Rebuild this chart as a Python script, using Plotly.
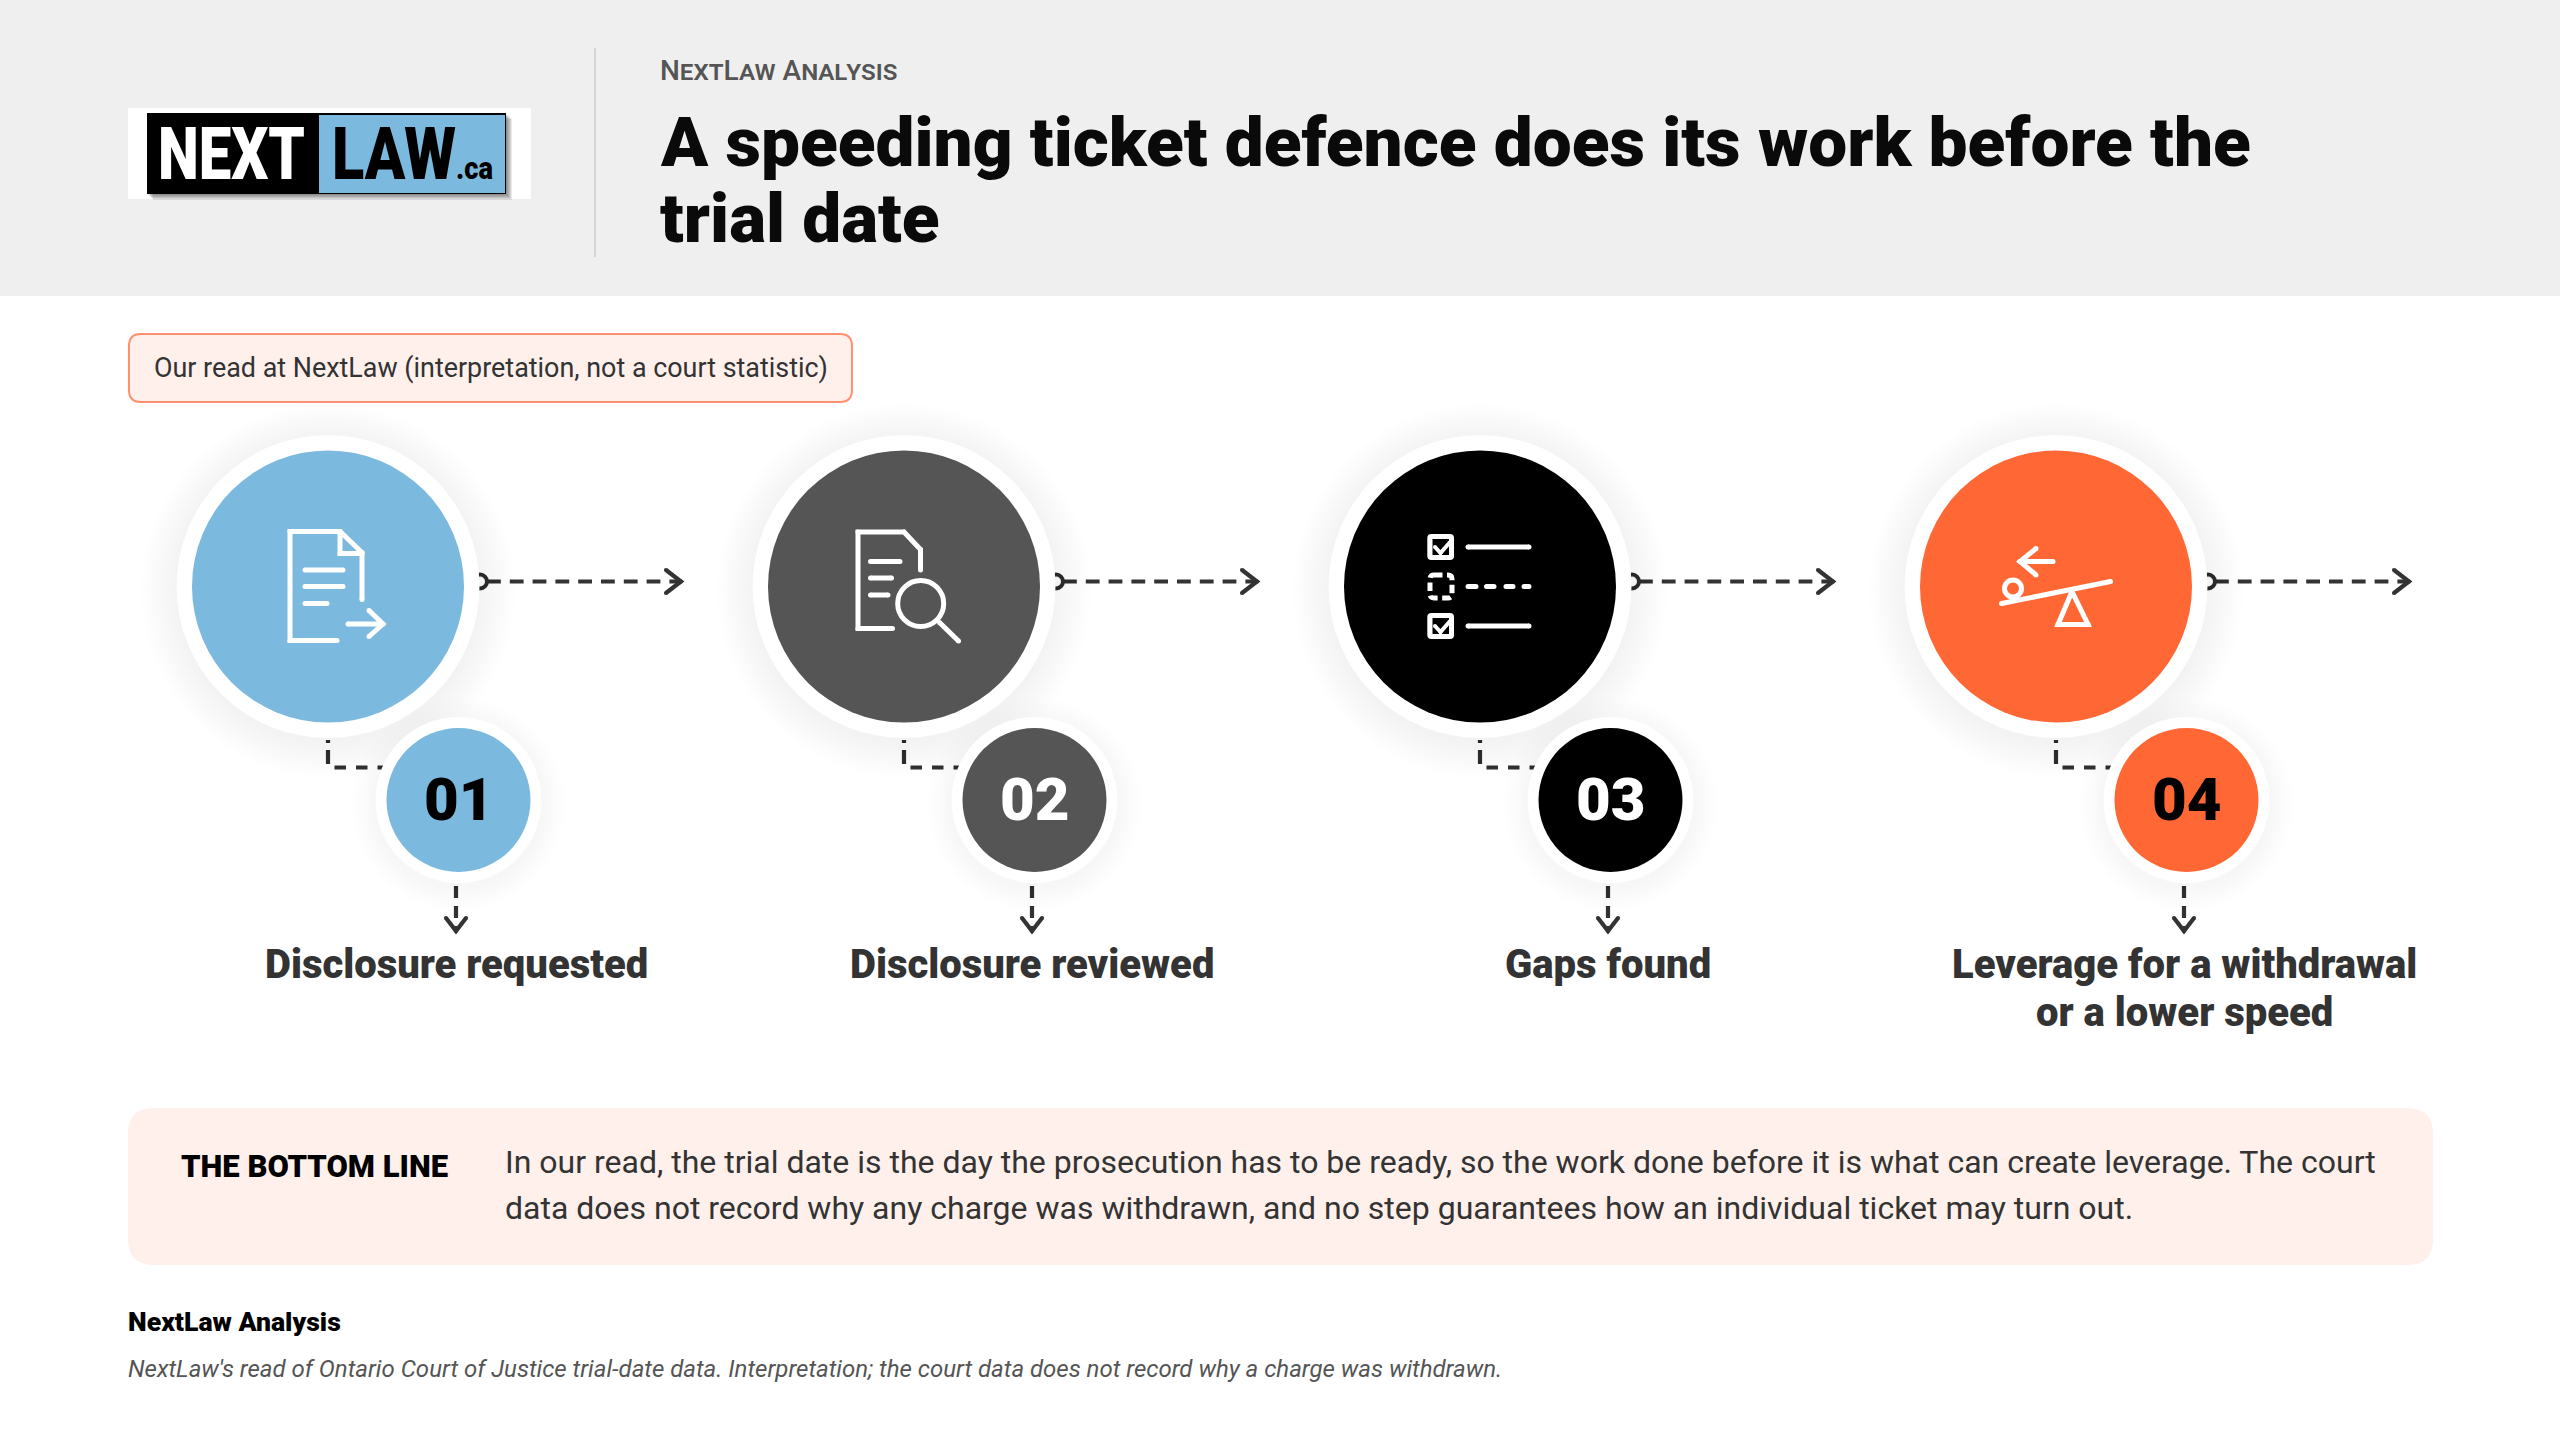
import json
import plotly.graph_objects as go

# --- Configuration ---
WIDTH = 2560
HEIGHT = 1440
FONT = "Roboto"
INK = "#333333"
HEADER_BG = "#EFEFEF"
PEACH = "#FFF0EB"
PEACH_LINE = "#FF9070"

# --- Content ---
step_numbers = ["01", "02", "03", "04"]
step_labels = [["Disclosure requested"], ["Disclosure reviewed"], ["Gaps found"],
               ["Leverage for a withdrawal", "or a lower speed"]]
step_colors = ["#7CB9DE", "#555555", "#000000", "#FF6835"]
number_colors = ["#000000", "#FFFFFF", "#FFFFFF", "#000000"]
step_x = [328, 904, 1480, 2056]

logo_words = ["NEXT", "LAW", ".ca"]
logo_x = [158, 332, 456]
logo_sizes = [72, 72, 32]
logo_colors = ["#FFFFFF", "#000000", "#000000"]
logo_widths = [147, 124, 37]

title_lines = ["A speeding ticket defence does its work before the", "trial date"]
eyebrow = "NextLaw Analysis"
badge_text = "Our read at NextLaw (interpretation, not a court statistic)"
bottom_label = "THE BOTTOM LINE"
bottom_lines = ["In our read, the trial date is the day the prosecution has to be ready, so the work done before it is what can create leverage. The court",
                "data does not record why any charge was withdrawn, and no step guarantees how an individual ticket may turn out."]
source_title = "NextLaw Analysis"
source_note = "NextLaw's read of Ontario Court of Justice trial-date data. Interpretation; the court data does not record why a charge was withdrawn."

# icon strokes, relative to the big circle centre
doc_send = [[(9, 54), (-38, 54), (-38, -55), (12, -55), (34, -34), (34, 13)],
            [(12, -55), (12, -33), (34, -33)],
            [(-23, -16.5), (15, -16.5)], [(-23, 0), (15, 0)], [(-23, 17), (-1, 17)],
            [(20, 37.5), (55, 37.5)], [(41, 24), (55, 37.5), (41, 50)]]
doc_search = [[(-11.5, 42), (-46, 42), (-46, -54.5), (0, -54.5), (16.5, -37), (16.5, -16.5)],
              [(-33.5, -25), (-4, -25)], [(-33.5, -8.5), (-12.5, -8.5)], [(-33.5, 8.5), (-16, 8.5)],
              [(35.5, 36), (54.5, 54.5)]]
lens = (16.7, 17, 23)
list_lines = [[(-12, -39.5), (49, -39.5)], [(-12, 39.5), (49, 39.5)],
              [(-12, 0), (-4, 0)], [(6.5, 0), (14, 0)], [(26, 0), (33, 0)], [(44, 0), (49, 0)]]
seesaw = [[(-54.5, 17), (54.5, -5)],
          [(16, 5), (2, 38), (32, 38), (16, 5)],
          [(-3, -25), (-36, -25)], [(-20, -38), (-36, -25), (-20, -11.5)]]
ball = (-43, 2, 8.5)

shapes = []
annotations = []


def rect(x0, y0, x1, y1, fill, line=None, lw=0, r=0, dash="solid"):
    if r:
        path = (f"M{x0+r},{y0} L{x1-r},{y0} Q{x1},{y0} {x1},{y0+r} L{x1},{y1-r} Q{x1},{y1} {x1-r},{y1} "
                f"L{x0+r},{y1} Q{x0},{y1} {x0},{y1-r} L{x0},{y0+r} Q{x0},{y0} {x0+r},{y0} Z")
        shapes.append(dict(type="path", path=path, fillcolor=fill,
                           line=dict(color=line or fill, width=lw, dash=dash), layer="above"))
    else:
        shapes.append(dict(type="rect", x0=x0, y0=y0, x1=x1, y1=y1, fillcolor=fill,
                           line=dict(width=lw, color=line or fill), layer="above"))


def circle(cx, cy, r, fill="rgba(0,0,0,0)", line=None, lw=0):
    shapes.append(dict(type="circle", x0=cx - r, y0=cy - r, x1=cx + r, y1=cy + r, fillcolor=fill,
                       line=dict(color=line or fill, width=lw), layer="above"))


def stroke(points, cx=0, cy=0, color="#FFFFFF", w=5, dash=None, round_ends=True):
    pts = [(cx + p[0], cy + p[1]) for p in points]
    path = "M" + " L".join(f"{x},{y}" for x, y in pts)
    shapes.append(dict(type="path", path=path, line=dict(color=color, width=w, dash=dash or "solid"), layer="above"))
    if round_ends:
        for x, y in pts:
            circle(x, y, w / 2, fill=color)


def soft_shadow(cx, cy, r, spread):
    # stacked faint discs stand in for a blurred drop shadow
    for i in range(spread, 0, -3):
        circle(cx, cy + 4, r + i, fill="rgba(0,0,0,0.005)")


def text(x, baseline, s, size, color=INK, weight=400, anchor="left", style="normal", variant="normal"):
    annotations.append(dict(x=x, y=baseline + 0.244 * size, text=s, showarrow=False, xanchor=anchor, yanchor="bottom",
                            borderpad=0, borderwidth=0, align=anchor,
                            font=dict(family=FONT, size=size, color=color, weight=weight, style=style, variant=variant)))


# --- Header ---
rect(0, 0, WIDTH, 296, HEADER_BG)
rect(128, 108, 531, 199, "#FFFFFF")
for i in range(6, 0, -1):
    rect(147 + i, 113 + i, 506 + i, 194 + i, "rgba(0,0,0,0.09)")
rect(147, 113, 506, 194, "#000000")
rect(319, 115, 505, 193, "#7CB9DE")
for word, x, size, color in zip(logo_words, logo_x, logo_sizes, logo_colors):
    text(x, 179, word, size, color=color, weight=900)
shapes.append(dict(type="line", x0=595, x1=595, y0=48, y1=257, line=dict(color="#CCCCCC", width=1.5), layer="above"))
text(660, 80, eyebrow, 28, color="#555555", weight=500, variant="small-caps")
text(660, 166.5, title_lines[0], 69.3, color="#0A0A0A", weight=900)
text(660, 242.5, title_lines[1], 69.3, color="#0A0A0A", weight=900)

# --- Badge ---
rect(129, 334, 852, 402, PEACH, line=PEACH_LINE, lw=2, r=12)
text(154, 377, badge_text, 26.9)

# --- Steps ---
for i, cx in enumerate(step_x):
    cy = 586.5
    sx = cx + 130.5
    sy = 800
    lx = cx + 128
    color = step_colors[i]

    # connectors sit under the discs
    stroke([(cx + 159, cy - 5), (cx + 350, cy - 5)], color=INK, w=4.2, dash="13.8px,9px", round_ends=False)
    stroke([(cx + 338, cy - 16.5), (cx + 353, cy - 5), (cx + 338, cy + 6.5)], color=INK, w=4.2)
    circle(cx + 152, cy - 5, 7, fill="#FFFFFF", line=INK, lw=4)
    stroke([(cx, 740), (cx, 767.5), (sx - 10, 767.5)], color=INK, w=4.2,
           dash="3px,7px,14px,10px,11.5px,10px,11.5px,10px,12px", round_ends=False)
    stroke([(lx, 886), (lx, 930)], color=INK, w=4.2, dash="12px,8px", round_ends=False)
    stroke([(lx - 10, 918), (lx, 931), (lx + 10, 918)], color=INK, w=4.2)

    soft_shadow(cx, cy, 151, 36)
    circle(cx, cy, 151.5, fill="#FFFFFF")
    circle(cx, cy, 136, fill=color)
    soft_shadow(sx, sy, 83, 24)
    circle(sx, sy, 83, fill="#FFFFFF")
    circle(sx, sy, 72, fill=color)
    text(sx, 820, step_numbers[i], 60, color=number_colors[i], weight=900, anchor="center")
    for j, line in enumerate(step_labels[i]):
        text(lx, 978.5 + 48 * j, line, 40, weight=900, anchor="center")

# icons
for pts in doc_send:
    stroke(pts, step_x[0], 586.5)
for pts in doc_search:
    stroke(pts, step_x[1], 586.5)
circle(step_x[1] + lens[0], 586.5 + lens[1], lens[2], line="#FFFFFF", lw=5)
for pts in list_lines:
    stroke(pts, step_x[2], 586.5)
for dy in [-39.5, 39.5]:
    rect(step_x[2] - 52.7, 586.5 + dy - 13, step_x[2] - 26, 586.5 + dy + 13, "#FFFFFF", r=4)
    rect(step_x[2] - 47.5, 586.5 + dy - 8, step_x[2] - 31, 586.5 + dy + 8, "#000000")
    stroke([(-45, dy), (-39.5, dy + 6), (-29, dy - 6)], step_x[2], 586.5, w=4)
rect(step_x[2] - 50, 586.5 - 11.5, step_x[2] - 28, 586.5 + 11.5, "#000000", line="#FFFFFF", lw=5, r=4, dash="8.5px,4.5px")
for pts in seesaw:
    stroke(pts, step_x[3], 586.5)
circle(step_x[3] + ball[0], 586.5 + ball[1], ball[2], line="#FFFFFF", lw=5)

# --- Bottom line box ---
rect(128, 1108, 2433, 1265, PEACH, r=26)
text(181, 1177, bottom_label, 31, color="#000000", weight=900)
text(505, 1173, bottom_lines[0], 32)
text(505, 1219, bottom_lines[1], 32)

# --- Footer ---
text(128, 1331, source_title, 26.6, color="#000000", weight=900)
text(128, 1377, source_note, 24, color="#555555", style="italic")

fig = go.Figure()
fig.update_layout(width=WIDTH, height=HEIGHT, margin=dict(l=0, r=0, t=0, b=0),
                  paper_bgcolor="#FFFFFF", plot_bgcolor="#FFFFFF", showlegend=False,
                  shapes=shapes, annotations=annotations,
                  xaxis=dict(range=[0, WIDTH], visible=False, fixedrange=True),
                  yaxis=dict(range=[HEIGHT, 0], visible=False, fixedrange=True))

# the logo lettering is condensed, no installed face has that cut
squeeze = """
document.body.style.margin = '0';
var widths = %s;
function squeezeLogo() {
  document.querySelectorAll('.annotation-text').forEach(function (t) {
    var w = widths[t.getAttribute('data-unformatted')];
    if (w) {
      t.setAttribute('textLength', w);
      t.setAttribute('lengthAdjust', 'spacingAndGlyphs');
      var box = t.parentNode.querySelector('rect');
      if (box) { box.setAttribute('width', w); }
    }
  });
}
squeezeLogo();
setTimeout(squeezeLogo, 50);
""" % json.dumps(dict(zip(logo_words, logo_widths)))
fig.write_html("out.html", config={"displayModeBar": False}, post_script=squeeze)
